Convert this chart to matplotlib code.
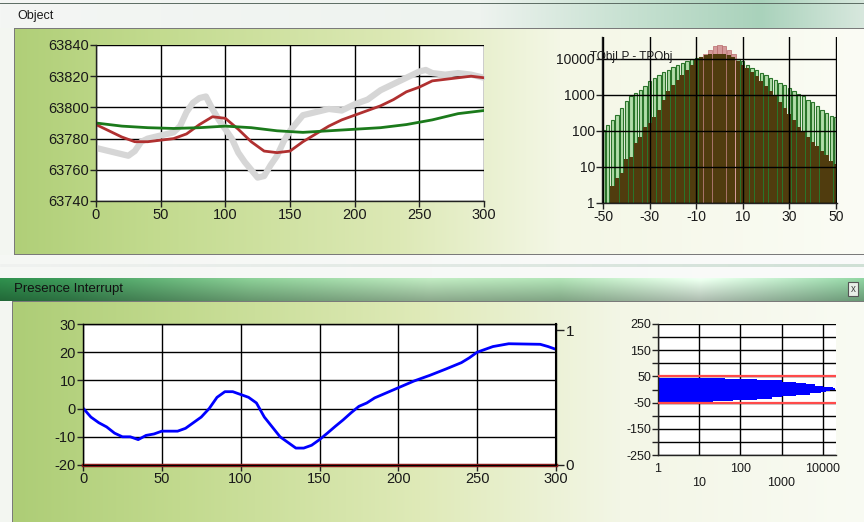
import numpy as np
import matplotlib
matplotlib.use('Agg')
import matplotlib.pyplot as plt
from matplotlib.ticker import FixedLocator, FuncFormatter, NullLocator
from matplotlib.colors import to_rgb

plt.rcParams['font.family'] = ['Liberation Sans', 'DejaVu Sans']
plt.rcParams['axes.unicode_minus'] = False

# --- Object: raw temperature, low-pass, slow low-pass
raw_x = [0, 10, 20, 25, 30, 35, 40, 50, 60, 65, 70, 75, 80, 85, 90, 95, 100, 105,
         110, 115, 120, 125, 130, 135, 140, 145, 150, 155, 160, 170, 180, 190, 200,
         210, 220, 230, 240, 250, 255, 260, 270, 280, 290, 300]
raw_y = [63774, 63772, 63770, 63769, 63772, 63778, 63780, 63782, 63784, 63788, 63797,
         63803, 63806, 63807, 63799, 63792, 63786, 63780, 63771, 63765, 63760, 63755,
         63756, 63763, 63769, 63778, 63785, 63790, 63795, 63797, 63799, 63798, 63802,
         63805, 63811, 63815, 63819, 63823, 63824, 63822, 63821, 63822, 63821, 63819]
lp_x = list(range(0, 301, 10))
lp_y = [63789, 63785, 63781, 63778, 63778, 63779, 63780, 63783, 63789, 63794, 63793,
        63786, 63778, 63772, 63771, 63772, 63778, 63783, 63788, 63792, 63795, 63798,
        63801, 63805, 63810, 63813, 63817, 63818, 63819, 63820, 63819]
slow_x = list(range(0, 301, 20))
slow_y = [63790, 63788, 63787, 63786.5, 63787, 63788, 63787, 63785, 63784, 63785,
          63786, 63787, 63789, 63792, 63796, 63798]

# --- Object histogram TObjLP - TPObj
hist_x = list(range(-50, 51, 2))
hist_green = [107, 147, 200, 280, 430, 660, 910, 1120, 1400, 1730, 2400, 2950, 3500,
              4250, 5000, 6000, 6900, 7700, 8500, 9600, 10700, 11500, 12000, 12500,
              13000, 13000, 12500, 12000, 11000, 10000, 8500, 6900, 5600, 4800, 4050,
              3500, 2950, 2530, 2150, 1850, 1550, 1310, 1075, 910, 735, 620, 500, 390,
              310, 263, 240]
hist_brown = [0, 0, 3, 5, 7, 17, 19, 45, 69, 132, 163, 250, 385, 735, 1260, 1900, 2650,
              3650, 5000, 6900, 9600, 11400, 12400, 13200, 13500, 13500, 13200, 12400,
              11000, 8600, 6900, 5600, 4250, 3300, 2400, 1730, 1260, 910, 620, 430, 300,
              204, 132, 96, 69, 50, 37, 27, 21, 15, 12]
peak_x = [-6, -4, -2, 0, 2, 4, 6]
peak_y = [13500, 18000, 22500, 23500, 22500, 18000, 13500]

# --- Presence Interrupt
pres_x = [0, 5, 10, 15, 20, 25, 30, 35, 40, 45, 50, 60, 65, 70, 75, 80, 85, 90, 95,
          100, 105, 110, 115, 120, 125, 130, 135, 140, 145, 150, 155, 160, 165, 170,
          175, 180, 185, 190, 200, 210, 220, 230, 240, 245, 250, 255, 260, 270, 280,
          290, 295, 300]
pres_y = [0.2, -3, -5, -6.5, -8.7, -10, -10, -11, -9.5, -9, -8, -8, -7, -5, -3, 0, 4,
          6, 6, 5, 4, 2, -3, -6.5, -10, -12, -14, -14, -13, -11, -8.7, -6.3, -4, -1.5,
          0.8, 2, 3.8, 5, 7.4, 9.8, 11.8, 14, 16.3, 18, 20, 21, 22, 23, 22.9, 22.8, 22, 21]
flag_x = [0, 300]
flag_y = [0, 0]

# --- Presence histogram (horizontal)
dist_edges = [-55, -50, -45, -40, -35, -30, -25, -20, -15, -10, -5, 0, 5, 10, 15, 20,
              25, 30, 35, 40, 45]
dist_counts = [7, 22, 67, 250, 600, 1000, 2300, 4800, 9100, 12000, 15000, 20000,
               18000, 10000, 6400, 4000, 2300, 1000, 250, 43]

W, H = 864, 522
fig = plt.figure(figsize=(W / 100, H / 100), dpi=100)


def hgrad(stops, width=W):
    xs = [s[0] for s in stops]
    cs = np.array([to_rgb(s[1]) for s in stops])
    cols = np.arange(width)
    return np.stack([np.interp(cols, xs, cs[:, k]) for k in range(3)], axis=1)


# window background
img = np.ones((H, W, 3)) * np.array(to_rgb('#f3f6f1'))
img[0:28] = hgrad([(0, '#f4f6f4'), (480, '#eef3ef'), (620, '#c9e2d3'), (760, '#a9d2bb'), (864, '#d8e8de')])
img[3] = to_rgb('#5f6f66')
img[28:255, 14:] = hgrad([(14, '#b0cf78'), (160, '#c3db8f'), (400, '#dde9b6'),
                          (560, '#f4f7e6'), (864, '#fbfcf5')])[14:]
img[28, 14:] = to_rgb('#7a7a7a')
img[254, 14:] = to_rgb('#7a7a7a')
img[28:255, 14] = to_rgb('#7a7a7a')
img[255:278] = hgrad([(0, '#f5f7f4'), (864, '#fafbfa')])
img[264:267] = hgrad([(0, '#f0f2f0'), (500, '#dfe8e2'), (864, '#cfe0d5')])
bar = hgrad([(0, '#2c8648'), (70, '#3b9155'), (250, '#83c28d'), (430, '#b4dbb5'),
             (560, '#a5d4aa'), (700, '#dff2e2'), (864, '#86c697')])
shade = np.linspace(1.08, 0.78, 23)[:, None, None]
img[278:301] = np.clip(bar[None, :, :] * shade, 0, 1)
img[301:, 12:] = hgrad([(12, '#adcd76'), (180, '#c2da8e'), (420, '#dfeab8'),
                        (620, '#f3f6e6'), (864, '#f9fbf3')])[12:]
img[301, 12:] = to_rgb('#7a7a7a')
img[301:, 12] = to_rgb('#7a7a7a')

bg = fig.add_axes([0, 0, 1, 1])
bg.imshow(img, aspect='auto', extent=(0, W, H, 0), interpolation='bilinear')
bg.set_xlim(0, W)
bg.set_ylim(H, 0)
bg.axis('off')

fig.text(17 / W, 1 - 16 / H, 'Object', fontsize=9, color='#1a1a1a', va='center')
fig.text(14 / W, 1 - 289 / H, 'Presence Interrupt', fontsize=9.5, color='#111111', va='center')
fig.text(853 / W, 1 - 289 / H, 'x', fontsize=7, color='#444444', va='center', ha='center',
         bbox=dict(boxstyle='square,pad=0.25', fc='#e8eee8', ec='#555555', lw=0.8))


def px_axes(x0, y0, x1, y1):
    return fig.add_axes([x0 / W, 1 - y1 / H, (x1 - x0) / W, (y1 - y0) / H])


def style(ax, fs=10.5):
    ax.set_facecolor('white')
    for s in ax.spines.values():
        s.set_color('#222222')
        s.set_linewidth(1.0)
    ax.tick_params(direction='out', length=4, width=1, colors='#222222',
                   labelsize=fs, labelcolor='#1a1a1a', pad=1)
    ax.grid(True, color='black', linewidth=1.0)


# Object time series
ax1 = px_axes(96, 45, 484, 201)
style(ax1)
ax1.plot(raw_x, raw_y, color='#d6d6d6', linewidth=4.5, marker='s', markersize=3.5,
         markeredgewidth=0, solid_capstyle='butt')
ax1.plot(lp_x, lp_y, color='#b03030', linewidth=2)
ax1.plot(slow_x, slow_y, color='#1b7a1b', linewidth=2)
ax1.set_xlim(0, 300)
ax1.set_ylim(63740, 63840)
ax1.set_xticks(range(0, 301, 50))
ax1.set_yticks(range(63740, 63841, 20))
ax1.spines['top'].set_visible(False)
ax1.spines['right'].set_visible(False)

# Object histogram
ax2 = px_axes(602, 37, 837, 203)
style(ax2, fs=10)
ax2.set_yscale('log', nonpositive='clip')
ax2.bar(hist_x, hist_green, width=1.4, color='#b2ddaa', edgecolor='#2a742a', linewidth=0.8)
ax2.bar(peak_x, peak_y, width=1.8, color='#d49a9a', edgecolor='#b86a6a', linewidth=0.5)
ax2.bar(hist_x, hist_brown, width=1.75, color='#503c0e', edgecolor='none')
ax2.set_axisbelow(False)
ax2.set_xlim(-50.5, 50.5)
ax2.set_ylim(1, 40000)
ax2.xaxis.set_major_locator(FixedLocator([-50, -30, -10, 10, 30, 50]))
ax2.yaxis.set_major_locator(FixedLocator([1, 10, 100, 1000, 10000]))
ax2.yaxis.set_minor_locator(NullLocator())
ax2.yaxis.set_major_formatter(FuncFormatter(lambda v, p: '%d' % v))
ax2.spines['top'].set_visible(False)
ax2.spines['right'].set_visible(False)
ax2.set_facecolor('none')
ax2.text(-0.05, 0.88, 'TObjLP - TPObj', transform=ax2.transAxes, fontsize=8.5,
         color='#1a1a1a', ha='left', va='center')

# Presence interrupt
ax3 = px_axes(83, 324, 556, 465)
style(ax3)
ax3.plot(pres_x, pres_y, color='#0000ff', linewidth=2)
ax3.set_xlim(0, 300)
ax3.set_ylim(-20, 30)
ax3.set_xticks(range(0, 301, 50))
ax3.set_yticks(range(-20, 31, 10))
ax3b = ax3.twinx()
ax3b.plot(flag_x, flag_y, color='#8b1c1c', linewidth=2.5, clip_on=False)
ax3b.set_ylim(0, 1.045)
ax3b.set_yticks([0, 1])
ax3b.tick_params(direction='out', length=6, width=1, colors='#222222',
                 labelsize=11, labelcolor='#1a1a1a', pad=1)
ax3b.spines['right'].set_linewidth(1.5)

# Presence histogram
ax4 = px_axes(658, 324, 836, 455)
style(ax4, fs=9)
ax4.set_xscale('log')
ax4.stairs(dist_counts, dist_edges, orientation='horizontal', baseline=0.5,
           fill=True, color='#0000ff', zorder=2)
ax4.axhline(50, color='#ff4a4a', linewidth=1.6, zorder=3)
ax4.axhline(-50, color='#ff4a4a', linewidth=1.6, zorder=3)
ax4.set_axisbelow(True)
ax4.set_xlim(1, 21000)
ax4.set_ylim(-250, 250)
ax4.xaxis.set_major_locator(FixedLocator([1, 10, 100, 1000, 10000]))
ax4.xaxis.set_minor_locator(NullLocator())
ax4.set_xticklabels(['1', '\n10', '100', '\n1000', '10000'])
ax4.yaxis.set_major_locator(FixedLocator(list(range(-250, 251, 50))))
ax4.set_yticklabels(['-250', '', '-150', '', '-50', '', '50', '', '150', '', '250'])
ax4.tick_params(axis='x', length=0, pad=6)
ax4.spines['top'].set_visible(False)
ax4.spines['right'].set_visible(False)

fig.savefig('out.png', dpi=100)
